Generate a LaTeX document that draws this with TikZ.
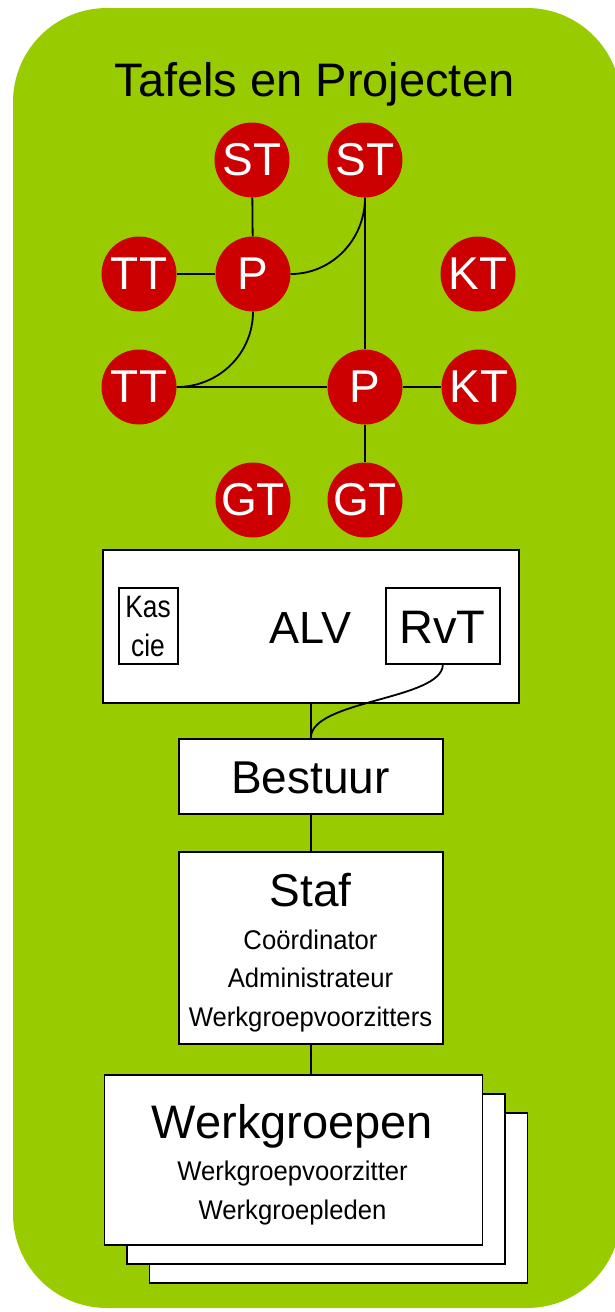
\documentclass[tikz,border=0pt]{standalone}
\usepackage{fontspec}
\setmainfont{Liberation Sans}
\definecolor{bggreen}{HTML}{99CC00}
\definecolor{circred}{HTML}{CC0000}
\newcommand\pxfont[1]{\fontsize{#1}{#1}\selectfont}
\newcommand\narrowtext[1]{\scalebox{0.95}[1]{#1}}
\begin{document}
\begin{tikzpicture}[x=1pt,y=1pt,
  tnode/.style={circle, fill=circred, minimum size=75pt, inner sep=0pt, text=white, font=\pxfont{46}},
  wbox/.style={draw=black, fill=white, line width=1.7pt, inner sep=0pt, anchor=north west},
  conn/.style={line width=1.8pt},
  lbl/.style={anchor=base, inner sep=0pt},
  sub/.style={lbl, font=\pxfont{27}}]
\useasboundingbox (0,0) rectangle (615,-1312);
\clip (0,0) rectangle (615,-1312);
\fill[bggreen, rounded corners=94pt] (13,-8) rectangle (621,-1308);

% title
\node[lbl, font=\pxfont{47}] (title) at (314.5,-96) {Tafels en Projecten};

% circles
\node[tnode] (st1) at (252,-160) {ST};
\node[tnode] (st2) at (365,-160) {ST};
\node[tnode] (tt1) at (139,-274) {TT};
\node[tnode] (p1)  at (253,-274) {P};
\node[tnode] (kt1) at (478,-274) {KT};
\node[tnode] (tt2) at (139,-387) {TT};
\node[tnode] (p2)  at (365,-387) {P};
\node[tnode] (kt2) at (479,-387) {KT};
\node[tnode] (gt1) at (253,-500) {GT};
\node[tnode] (gt2) at (365,-500) {GT};

\draw[conn] (st1) -- (p1);
\draw[conn] (tt1) -- (p1);
\draw[conn] (p1.east) to[out=0,in=-90] (st2.south);
\draw[conn] (st2) -- (p2);
\draw[conn] (p1.south) to[out=-90,in=0] (tt2.east);
\draw[conn] (tt2) -- (p2);
\draw[conn] (p2) -- (kt2);
\draw[conn] (p2) -- (gt2);

% ALV
\node[wbox, minimum width=416pt, minimum height=153pt] (alv) at (102,-549) {};
\node[wbox, minimum width=59pt, minimum height=76pt] (kas) at (118,-587) {};
\node[wbox, minimum width=114pt, minimum height=76pt] (rvt) at (385,-587) {};
\node[lbl, font=\pxfont{45}] (alvt) at (310.5,-643) {ALV};
\node[lbl, font=\pxfont{47}] (rvtt) at (442.5,-643) {RvT};
\node[lbl, font=\pxfont{31}] (kast) at (148,-617) {\scalebox{0.85}[1]{Kas}};
\node[lbl, font=\pxfont{31}] (ciet) at (148,-656) {\scalebox{0.85}[1]{cie}};

% Bestuur
\node[wbox, minimum width=264pt, minimum height=75pt] (best) at (178,-738) {};
\node[lbl, font=\pxfont{46}] (bestt) at (310.5,-793) {Bestuur};

% Staf
\node[wbox, minimum width=264pt, minimum height=192pt] (staf) at (178,-851) {};
\node[lbl, font=\pxfont{46}] (staft) at (310.5,-906.5) {Staf};
\node[sub] (s1) at (310.5,-949) {\narrowtext{Coördinator}};
\node[sub] (s2) at (310.5,-987.5) {\narrowtext{Administrateur}};
\node[sub] (s3) at (310.5,-1026) {\narrowtext{Werkgroepvoorzitters}};

% Werkgroepen stack
\node[wbox, minimum width=378pt, minimum height=170pt] (wg3) at (148.5,-1112) {};
\node[wbox, minimum width=378pt, minimum height=170pt] (wg2) at (126,-1093) {};
\node[wbox, minimum width=378pt, minimum height=170pt] (wg1) at (103.5,-1074) {};
\node[lbl, font=\pxfont{47}] (wgt) at (292.5,-1138) {Werkgroepen};
\node[sub] (w1) at (292.5,-1180.5) {\narrowtext{Werkgroepvoorzitter}};
\node[sub] (w2) at (292.5,-1219) {\narrowtext{Werkgroepleden}};

% connectors
\draw[conn] (alv.south) -- (best.north);
\draw[conn] (rvt.south) .. controls (442,-700) and (310.5,-700) .. (best.north);
\draw[conn] (best.south) -- (staf.north);
\draw[conn] (staf.south) -- (staf.south |- wg1.north);
\end{tikzpicture}
\end{document}
